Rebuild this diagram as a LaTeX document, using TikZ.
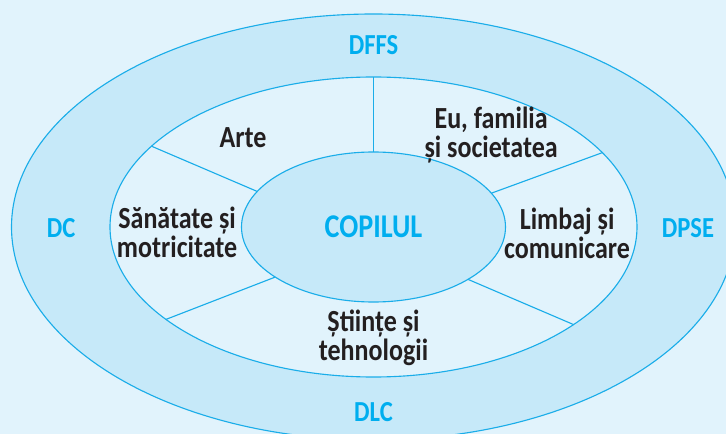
\documentclass[tikz,border=0pt]{standalone}
\usepackage{fontspec}
\setmainfont{Carlito}
\usepackage{xcolor}
\usepackage{tikz}
\usetikzlibrary{positioning}
\usetikzlibrary{shapes.geometric}

\definecolor{bgblue}{HTML}{E1F3FC}
\definecolor{ringblue}{HTML}{C6E9F9}
\definecolor{lineblue}{HTML}{1AADE9}
\definecolor{textblue}{HTML}{00AEEF}
\definecolor{textdark}{HTML}{231F20}

\tikzset{
  ring/.style={ellipse, draw=lineblue, line width=0.8pt, inner sep=0pt, outer sep=0pt},
  divider/.style={draw=lineblue, line width=0.8pt},
  tall/.style={yscale=1.18, transform shape},
  dlabel/.style={tall, text=textblue, font=\fontsize{17.5}{19}\selectfont\bfseries},
  area/.style={tall, text=textdark, align=center, font=\fontsize{18.5}{17.5}\selectfont\bfseries},
  child/.style={tall, text=textblue, font=\fontsize{20}{22}\selectfont\bfseries}
}

\begin{document}
\begin{tikzpicture}
\fill[bgblue] (-9.3375,-5.175) rectangle (8.8125,5.675);
\useasboundingbox (-9.3375,-5.175) rectangle (8.8125,5.675);

\node[ring, fill=ringblue, minimum width=18.1cm, minimum height=10.65cm] (outer) at (0,0) {};
\node[ring, fill=bgblue, minimum width=13.175cm, minimum height=7.5cm] (middle) at (0,0) {};
\node[ring, fill=ringblue, minimum width=6.6cm, minimum height=3.75cm] (inner) at (0,0) {};

\draw[divider] (inner.90) -- (middle.90);
\draw[divider] (inner.163.3) -- (middle.160.3);
\draw[divider] (inner.16) -- (middle.18.55);
\draw[divider] (inner.207.9) -- (middle.204.7);
\draw[divider] (inner.331.2) -- (middle.334.4);

\node[child] (copilul) at (0,0) {COPILUL};

\node[area] (arte) at (-3.26,2.225) {Arte};
\node[area] (familia) at (2.94,2.3) {Eu, familia\\și societatea};
\node[area] (sanatate) at (-4.91,-0.125) {Sănătate și\\motricitate};
\node[area] (limbaj) at (4.84,-0.15) {Limbaj și\\comunicare};
\node[area] (stiinte) at (0,-2.775) {Științe și\\tehnologii};

\node[dlabel] (dffs) at (0,4.55) {DFFS};
\node[dlabel] (dlc) at (0,-4.625) {DLC};
\node[dlabel] (dc) at (-7.81,-0.025) {DC};
\node[dlabel] (dpse) at (7.86,-0.025) {DPSE};
\end{tikzpicture}
\end{document}
